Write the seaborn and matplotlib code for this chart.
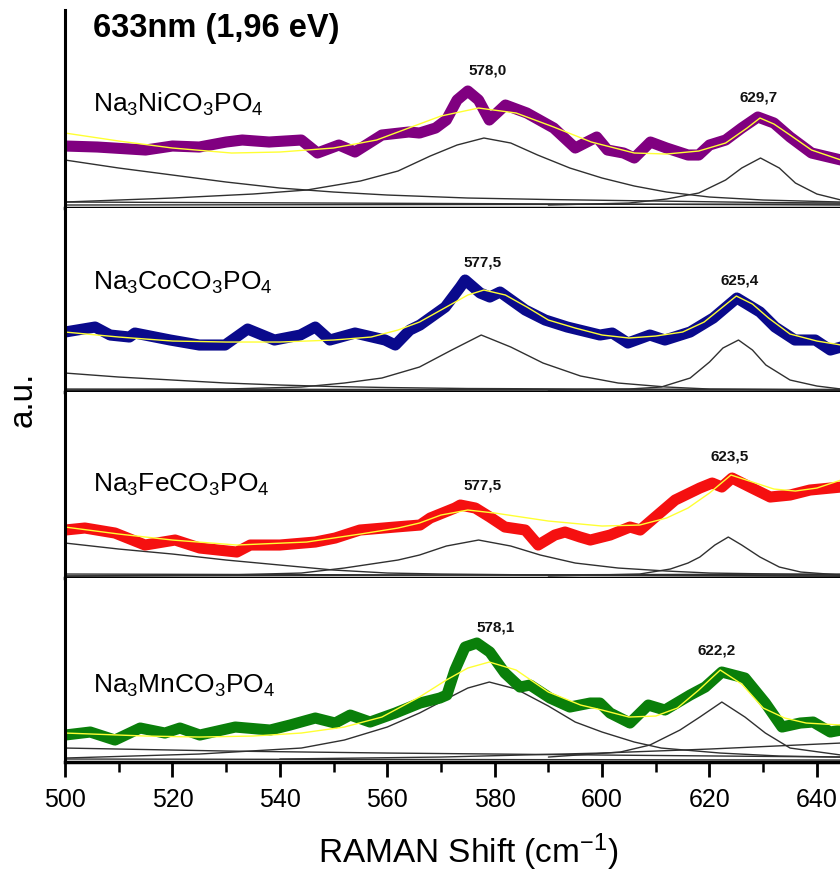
import matplotlib
matplotlib.use("Agg")
import matplotlib.pyplot as plt
from matplotlib.ticker import MultipleLocator
import seaborn as sns

# ---- Na3NiCO3PO4 (top panel) ----
ni_x = [500, 506, 512, 515, 520, 525, 530, 533, 538, 544, 547, 551, 554, 559, 564, 566, 569,
        571, 573, 575, 577, 579, 582, 586, 591, 595, 599, 601, 604, 606, 609, 612, 616, 618,
        620, 623, 626, 629, 632, 635, 639, 644.5]
ni_y = [62, 61, 59, 58, 62, 61, 66, 68, 66, 68, 55, 63, 56, 73, 76, 75, 80,
        88, 108, 117, 108, 88, 103, 95, 80, 60, 71, 58, 55, 50, 66, 60, 53, 53,
        63, 68, 80, 91, 85, 71, 55, 48]
ni_fit_x = [500, 510, 520, 531, 540, 550, 558, 564, 570, 577, 584, 591, 598, 606, 612, 618,
            623, 627, 629.4, 632, 635, 639, 644.5]
ni_fit_y = [75, 67, 60, 55, 56, 60, 68, 80, 92, 100, 95, 81, 66, 55, 54, 57,
            65, 80, 90, 84, 73, 58, 48]
ni_bg_x = [500, 510, 520, 530, 540, 550, 560, 575, 590, 610, 630, 644.5]
ni_bg_y = [48, 40, 33, 26, 20, 16, 13, 10, 8.5, 7, 5.5, 5]
ni_p1_x = [500, 520, 535, 545, 555, 562, 568, 573, 578, 583, 588, 594, 600, 606, 612, 620, 630, 644.5]
ni_p1_y = [6, 10, 14, 18, 27, 37, 52, 63, 70, 65, 53, 40, 30, 22, 16, 11, 8, 6]
ni_p2_x = [590, 605, 612, 618, 623, 626, 629.5, 633, 636, 640, 644.5]
ni_p2_y = [3, 5, 9, 15, 28, 40, 50, 40, 25, 14, 8]
ni_base_x = [500, 644.5]
ni_base1_y = [6, 3]
ni_base2_y = [3, 4]

# ---- Na3CoCO3PO4 ----
co_x = [500, 505.6, 508.4, 512, 513, 519.6, 525, 529.8, 534, 539, 543.8, 546.6, 549.3, 554,
        559.6, 561.5, 564.2, 566.1, 570.8, 573.6, 574.5, 577.3, 579.1, 581, 585.7, 589.4,
        593.5, 599.6, 601.9, 604.8, 608.9, 611.7, 616.4, 620.7, 625.1, 629.4, 632.2, 635.9,
        639.7, 642.5, 644.5]
co_y = [60, 65, 57, 55, 59, 52, 47, 47, 63, 52, 57, 65, 52, 59,
        52, 47, 62, 67, 85, 105, 112, 99, 95, 100, 82, 72,
        65, 57, 59, 49, 57, 52, 60, 74, 94, 80, 65, 52,
        52, 42, 45]
co_fit_x = [500, 510, 520, 530, 540, 550, 557, 562, 566, 571, 575, 578, 582, 586, 590, 595,
            600, 605, 610, 615, 619, 622, 625, 628, 631, 635, 640, 644.5]
co_fit_y = [60, 55, 51, 50, 50, 52, 55, 62, 70, 85, 97, 102, 97, 85, 72, 64,
            57, 54, 56, 60, 70, 83, 96, 88, 74, 58, 51, 47]
co_bg_x = [500, 510, 520, 530, 540, 550, 560, 575, 600, 644.5]
co_bg_y = [19, 15, 12, 9, 7, 5.5, 4.5, 3.5, 3, 2.5]
co_p1_x = [500, 530, 544, 552, 559, 566, 572, 577.5, 583, 589, 596, 603, 612, 620, 644.5]
co_p1_y = [2, 3, 5, 9, 14, 25, 42, 57, 45, 29, 16, 9, 5, 3, 2]
co_p2_x = [590, 605, 611, 616.4, 620, 622.5, 625.4, 628, 630.5, 635, 640, 644.5]
co_p2_y = [2, 3, 5, 14, 30, 44, 52, 42, 27, 12, 6, 3]
co_base_x = [500, 644.5]
co_base1_y = [3, 2]
co_base2_y = [1.5, 2.5]

# ---- Na3FeCO3PO4 ----
fe_x = [500, 503.7, 509.3, 514.9, 520.5, 525.1, 532, 534.5, 540, 546.6, 550.3, 554.9, 561.5,
        566.1, 568, 572.6, 573.6, 576.4, 579.1, 581.9, 585.7, 588.1, 591.2, 593.1, 595.9,
        597.8, 601.5, 605.2, 607.1, 609.9, 613.6, 618.2, 620.5, 622.3, 624.2, 627.9, 631.3,
        635, 638.7, 644.5]
fe_y = [48, 50, 45, 33, 38, 30, 26, 33, 33, 36, 40, 48, 51,
        53, 60, 70, 73, 70, 61, 51, 48, 33, 43, 46, 41,
        38, 43, 51, 48, 61, 78, 90, 95, 91, 100, 90, 81,
        83, 88, 91]
fe_fit_x = [500, 510, 520, 532, 545, 555, 562, 566, 570, 575, 580, 585, 590, 600, 607, 612,
            616, 620, 624, 628, 632, 636, 640, 644.5]
fe_fit_y = [51, 44, 38, 33, 36, 44, 50, 55, 63, 68, 65, 61, 57, 52, 53, 60,
            70, 85, 103, 96, 89, 87, 90, 98]
fe_bg_x = [500, 510, 520, 530, 540, 550, 560, 570, 590, 620, 644.5]
fe_bg_y = [35, 29, 24, 18, 13, 8, 5, 4, 3, 2.5, 2]
fe_p1_x = [500, 530, 544, 552, 562, 566, 571, 577, 583, 588.5, 595, 603, 612, 620, 644.5]
fe_p1_y = [2, 3, 5, 10, 18, 23, 32, 38, 32, 23, 15, 10, 7, 5, 3]
fe_p2_x = [590, 607, 612.7, 616, 618.2, 621, 623.5, 626, 629.4, 633, 637, 644.5]
fe_p2_y = [2, 4, 9, 15, 21, 33, 41, 33, 21, 11, 6, 3]
fe_base_x = [500, 644.5]
fe_base1_y = [4, 2]
fe_base2_y = [2, 4]

# ---- Na3MnCO3PO4 (bottom panel) ----
mn_x = [500, 504.7, 509.3, 514, 518.6, 521.4, 525.1, 531.7, 538.2, 541.9, 546.6, 550.3, 553.1,
        556.8, 561.5, 566.1, 569.8, 571.1, 572.6, 574.5, 576.7, 579.1, 581.9, 584.7, 586.6,
        590.3, 594, 597.8, 599.6, 601.5, 605.2, 608.6, 611.7, 616.4, 619.2, 622.3, 626.6,
        630.4, 633.5, 636.9, 639.3, 642.5, 644.5]
mn_y = [27, 30, 22, 34, 29, 34, 27, 35, 32, 37, 44, 39, 47,
        40, 49, 59, 64, 67, 92, 115, 119, 110, 89, 75, 77,
        64, 55, 59, 59, 49, 39, 57, 52, 67, 75, 90, 84,
        59, 35, 39, 40, 30, 32]
mn_fit_x = [500, 515, 525, 535, 544, 552, 559, 566, 571, 575, 579, 584, 590, 596, 600, 605,
            610, 614, 618, 622, 626, 630, 634, 638, 644.5]
mn_fit_y = [29, 26, 25, 26, 29, 35, 45, 65, 82, 94, 100, 92, 70, 57, 52, 45,
            46, 54, 72, 92, 78, 54, 44, 39, 37]
mn_bg_x = [500, 530, 560, 600, 644.5]
mn_bg_y = [14, 11, 9, 7, 5]
mn_p1_x = [500, 525, 544, 552, 560, 566, 571, 575, 579, 584, 590, 595, 600, 606, 611, 622, 633, 644.5]
mn_p1_y = [4, 8, 14, 22, 35, 49, 63, 74, 80, 73, 56, 40, 30, 20, 14, 9, 6, 5]
mn_p2_x = [590, 603.4, 608.9, 614.5, 618.2, 622.3, 626.6, 630.4, 635, 644.5]
mn_p2_y = [5, 10, 17, 32, 45, 60, 45, 29, 14, 7]
mn_p3_x = [540, 570, 600, 620, 644.5]
mn_p3_y = [3, 5, 9, 13, 19]
mn_base_x = [500, 644.5]
mn_base1_y = [3, 2]

# labels
names = ["Na$_3$NiCO$_3$PO$_4$", "Na$_3$CoCO$_3$PO$_4$",
         "Na$_3$FeCO$_3$PO$_4$", "Na$_3$MnCO$_3$PO$_4$"]
name_y = [96, 102, 86, 69]
peak_labels = [["578,0", "629,7"], ["577,5", "625,4"], ["577,5", "623,5"], ["578,1", "622,2"]]
peak_label_x = [[578.6, 629.1], [577.7, 625.7], [577.8, 623.8], [580.1, 621.4]]
peak_label_y = [[138, 111], [130, 112], [93, 122], [135, 112]]
panel_heights = [198, 184, 186, 184]
colors = ["#800080", "#0a0a8c", "#f51010", "#0a7f0a"]

panels = [
    dict(x=ni_x, y=ni_y, fx=ni_fit_x, fy=ni_fit_y,
         comps=[(ni_bg_x, ni_bg_y), (ni_p1_x, ni_p1_y), (ni_p2_x, ni_p2_y),
                (ni_base_x, ni_base1_y), (ni_base_x, ni_base2_y)]),
    dict(x=co_x, y=co_y, fx=co_fit_x, fy=co_fit_y,
         comps=[(co_bg_x, co_bg_y), (co_p1_x, co_p1_y), (co_p2_x, co_p2_y),
                (co_base_x, co_base1_y), (co_base_x, co_base2_y)]),
    dict(x=fe_x, y=fe_y, fx=fe_fit_x, fy=fe_fit_y,
         comps=[(fe_bg_x, fe_bg_y), (fe_p1_x, fe_p1_y), (fe_p2_x, fe_p2_y),
                (fe_base_x, fe_base1_y), (fe_base_x, fe_base2_y)]),
    dict(x=mn_x, y=mn_y, fx=mn_fit_x, fy=mn_fit_y,
         comps=[(mn_bg_x, mn_bg_y), (mn_p1_x, mn_p1_y), (mn_p2_x, mn_p2_y),
                (mn_p3_x, mn_p3_y), (mn_base_x, mn_base1_y)]),
]

sns.set_style("white")
plt.rcParams["font.family"] = ["Liberation Sans", "DejaVu Sans"]
plt.rcParams["mathtext.fontset"] = "custom"
plt.rcParams["mathtext.rm"] = "Liberation Sans"
plt.rcParams["mathtext.it"] = "Liberation Sans:italic"
plt.rcParams["mathtext.bf"] = "Liberation Sans:bold"
plt.rcParams["mathtext.default"] = "regular"
plt.rcParams["text.color"] = "black"
plt.rcParams["axes.labelcolor"] = "black"
plt.rcParams["xtick.color"] = "black"

fig, axes = plt.subplots(4, 1, figsize=(8.4, 8.71), dpi=100, sharex=True,
                         gridspec_kw=dict(height_ratios=panel_heights, hspace=0))
fig.subplots_adjust(left=0.0774, right=1.0, top=0.9885, bottom=0.1251)

for i, (ax, p) in enumerate(zip(axes, panels)):
    for cx, cy in p["comps"]:
        sns.lineplot(x=cx, y=cy, ax=ax, color="#303030", lw=1.0,
                     estimator=None, sort=False)
    sns.lineplot(x=p["x"], y=p["y"], ax=ax, color=colors[i], lw=8,
                 estimator=None, sort=False,
                 solid_joinstyle="round", solid_capstyle="round")
    sns.lineplot(x=p["fx"], y=p["fy"], ax=ax, color="#ffff33", lw=1.0,
                 estimator=None, sort=False)

    ax.text(505.2, name_y[i], names[i], fontsize=19, va="baseline", ha="left")
    for lab, lx, ly in zip(peak_labels[i], peak_label_x[i], peak_label_y[i]):
        ax.text(lx, ly, lab, fontsize=11, fontweight="bold",
                ha="center", va="center", color="#111111")

    ax.set_ylim(0, panel_heights[i])
    ax.set_xlim(500, 644.3)
    ax.set_yticks([])
    ax.set_ylabel("")
    for s in ["top", "right"]:
        ax.spines[s].set_visible(False)
    ax.spines["left"].set_linewidth(2.2)
    ax.spines["bottom"].set_linewidth(2.5)
    ax.spines["left"].set_color("black")
    ax.spines["bottom"].set_color("black")
    if i < 3:
        ax.tick_params(axis="x", which="both", bottom=False, labelbottom=False)

axes[0].text(505.2, 171, "633nm (1,96 eV)", fontsize=23.5, fontweight="bold",
             va="baseline", ha="left")

bot = axes[-1]
bot.xaxis.set_major_locator(MultipleLocator(20))
bot.xaxis.set_minor_locator(MultipleLocator(10))
bot.tick_params(axis="x", which="major", direction="out", length=11, width=2,
                labelsize=18, pad=8, bottom=True)
bot.tick_params(axis="x", which="minor", direction="out", length=7, width=1.8,
                bottom=True)
bot.set_xlabel("RAMAN Shift (cm$^{-1}$)", fontsize=24)
bot.xaxis.set_label_coords(0.52, -0.375)

fig.text(0.028, 0.541, "a.u.", rotation=90, fontsize=24, ha="center", va="center")

fig.savefig("out.png", dpi=100)
